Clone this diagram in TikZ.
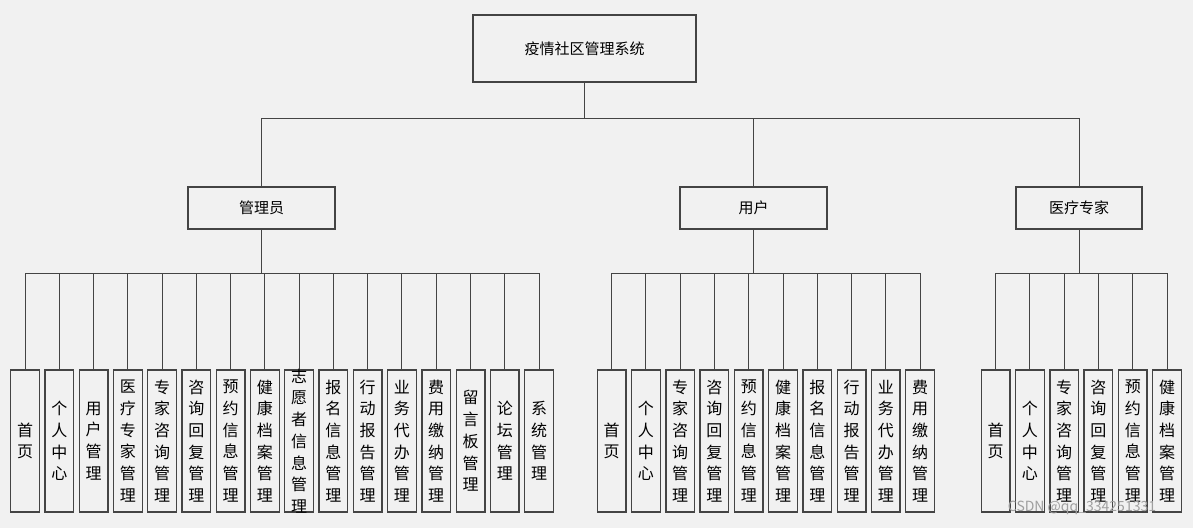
\documentclass[tikz,border=0pt]{standalone}
\usepackage{fontspec}
\setmainfont{Noto Sans CJK SC}
\definecolor{bg}{HTML}{F1F1F1}
\definecolor{ln}{HTML}{444444}
% stack the characters of a label one above the other, centred on the baseline
\def\vchars#1{\ifx#1\relax\else\hbox to 0pt{\hss#1\hss}\expandafter\vchars\fi}
\newcommand\vlabel[1]{\vbox to 0pt{\vss\baselineskip=21.7pt\lineskiplimit=-100pt\vchars#1\relax\vss}}
\tikzset{
  box/.style={draw=ln, line width=1.3pt, fill=bg, rectangle, inner sep=0pt},
  rootbox/.style={box, minimum width=223pt, minimum height=67pt, font=\fontsize{15}{16}\selectfont},
  rolebox/.style={box, minimum width=147pt, minimum height=42pt, font=\fontsize{15}{16}\selectfont},
  leafbox/.style={box, minimum width=28.7pt, minimum height=142pt, font=\fontsize{16}{17}\selectfont},
  conn/.style={draw=ln, line width=1pt},
}
\begin{document}
\begin{tikzpicture}[x=1pt,y=-1pt]
\fill[bg] (0,0) rectangle (1193,528);
\useasboundingbox (0,0) rectangle (1193,528);

% system and roles
\node[rootbox] (root) at (584.5,48.5) {疫情社区管理系统};
\node[rolebox] (admin) at (261.5,208) {管理员};
\node[rolebox] (user) at (753.5,208) {用户};
\node[rolebox, minimum width=126pt] (expert) at (1079,208) {医疗专家};

\coordinate (topbus) at (584.5,118);
\coordinate (abus) at (0,273);

\draw[conn] (root.south) -- (root.south |- topbus);
\draw[conn] (admin.north) -- (admin.north |- topbus) -| (expert.north);
\draw[conn] (user.north) -- (user.north |- topbus);

% administrator functions
\foreach \t [count=\i from 0] in {首页,个人中心,用户管理,医疗专家管理,专家咨询管理,咨询回复管理,预约信息管理,健康档案管理,志愿者信息管理,报名信息管理,行动报告管理,业务代办管理,费用缴纳管理,留言板管理,论坛管理,系统管理}{
  \node[leafbox] (a\i) at (25+34.27*\i,441) {\expandafter\vlabel\expandafter{\t}};
  \draw[conn] (a\i.north) -- (a\i.north |- abus);
}
\draw[conn] (a0.north |- abus) -- (a15.north |- abus);
\draw[conn] (admin.south) -- (admin.south |- abus);

% user functions
\foreach \t [count=\i from 0] in {首页,个人中心,专家咨询管理,咨询回复管理,预约信息管理,健康档案管理,报名信息管理,行动报告管理,业务代办管理,费用缴纳管理}{
  \node[leafbox] (u\i) at (611.7+34.26*\i,441) {\expandafter\vlabel\expandafter{\t}};
  \draw[conn] (u\i.north) -- (u\i.north |- abus);
}
\draw[conn] (u0.north |- abus) -- (u9.north |- abus);
\draw[conn] (user.south) -- (user.south |- abus);

% medical expert functions
\foreach \t [count=\i from 0] in {首页,个人中心,专家咨询管理,咨询回复管理,预约信息管理,健康档案管理}{
  \node[leafbox] (e\i) at (995.7+34.26*\i,441) {\expandafter\vlabel\expandafter{\t}};
  \draw[conn] (e\i.north) -- (e\i.north |- abus);
}
\draw[conn] (e0.north |- abus) -- (e5.north |- abus);
\draw[conn] (expert.south) -- (expert.south |- abus);

\node[text=gray!75, font=\fontsize{14}{16}\selectfont, inner sep=0pt] (mark) at (1082,508) {CSDN @qq\_334251331};
\end{tikzpicture}
\end{document}
